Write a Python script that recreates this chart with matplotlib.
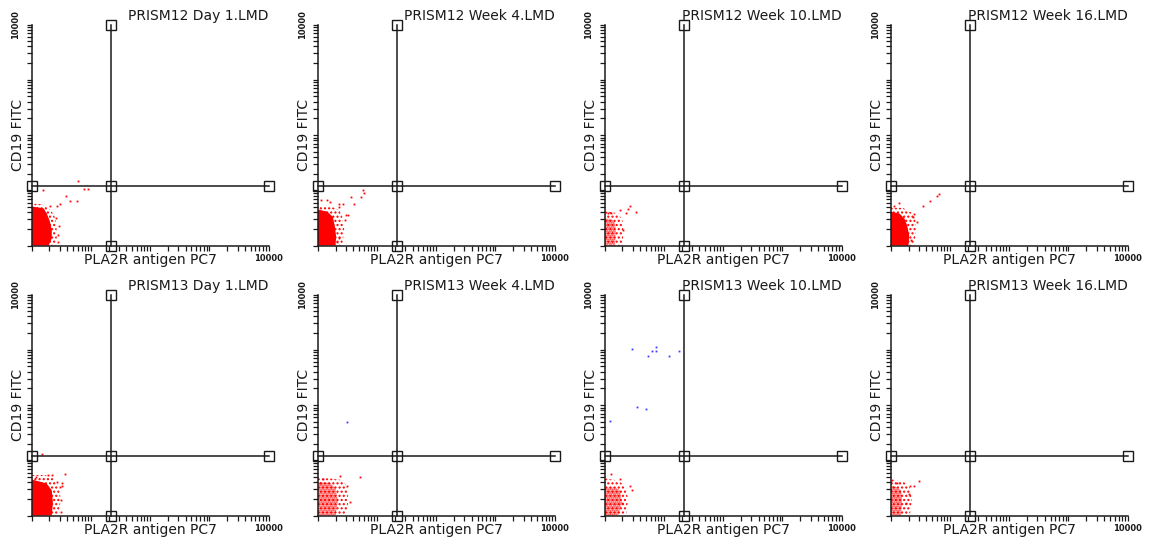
import matplotlib
matplotlib.use("Agg")
import matplotlib.pyplot as plt
from matplotlib.ticker import FuncFormatter, NullFormatter, FixedLocator

# Sample files, row by row
titles = [
    "PRISM12 Day 1.LMD", "PRISM12 Week 4.LMD", "PRISM12 Week 10.LMD", "PRISM12 Week 16.LMD",
    "PRISM13 Day 1.LMD", "PRISM13 Week 4.LMD", "PRISM13 Week 10.LMD", "PRISM13 Week 16.LMD",
]
x_label = "PLA2R antigen PC7"
y_label = "CD19 FITC"

# Quadrant gate (PC7, FITC)
gate_x = 22
gate_y = 12
axis_min, axis_max = 1, 10000

# Outline of the dense event population in each file (PC7, FITC)
core_x = [
    [1, 1.95, 2.2, 2.2, 2.05, 1.8, 1.6, 1],
    [1, 2.0, 2.05, 1.95, 1.8, 1.45, 1],
    [1, 1.5, 1.55, 1.5, 1.3, 1],
    [1, 2.0, 2.05, 1.9, 1.7, 1.4, 1],
    [1, 2.2, 2.3, 2.2, 1.8, 1],
    [1, 2.0, 2.2, 2.0, 1.6, 1],
    [1, 1.7, 1.95, 1.85, 1.5, 1],
    [1, 1.5, 1.55, 1.5, 1.2, 1],
]
core_y = [
    [1, 1, 1.35, 1.9, 2.7, 3.85, 4.7, 5.1],
    [1, 1, 1.45, 2.2, 3.3, 4.1, 4.5],
    [1, 1, 1.8, 2.6, 3.0, 3.1],
    [1, 1, 1.5, 2.3, 3.1, 3.8, 4.1],
    [1, 1, 1.7, 2.85, 3.8, 4.5],
    [1, 1, 1.85, 3.1, 3.95, 3.95],
    [1, 1, 1.65, 2.85, 3.2, 3.2],
    [1, 1, 1.85, 2.85, 3.35, 3.5],
]
# Outline of the thinner fringe around it
halo_x = [
    [1, 2.6, 2.7, 2.6, 2.4, 2.0, 1.5, 1],
    [1, 2.6, 2.8, 2.6, 2.3, 1.6, 1],
    [1, 2.0, 2.1, 2.0, 1.7, 1.2, 1],
    [1, 2.5, 2.7, 2.6, 2.2, 1.6, 1],
    [1, 2.9, 3.1, 2.9, 2.4, 1.7, 1],
    [1, 3.0, 3.3, 3.1, 2.5, 1.6, 1],
    [1, 2.3, 2.5, 2.3, 1.7, 1],
    [1, 2.1, 2.3, 2.1, 1.6, 1],
]
halo_y = [
    [1, 1, 1.6, 2.6, 3.6, 4.6, 5.6, 5.7],
    [1, 1, 2.0, 3.3, 4.4, 5.2, 5.2],
    [1, 1, 1.8, 2.9, 3.8, 4.1, 4.1],
    [1, 1, 2.0, 3.1, 4.0, 4.8, 4.8],
    [1, 1, 2.0, 3.4, 4.6, 5.4, 5.4],
    [1, 1, 1.8, 3.5, 4.4, 4.7, 4.7],
    [1, 1, 1.9, 3.3, 4.3, 4.7],
    [1, 1, 1.85, 3.3, 4.2, 4.4],
]
core_solid = [True, True, False, True, True, False, False, False]

# Isolated events outside the main population
events_x = [
    [6.0, 7.7, 8.9, 1.55, 3.8, 5.8, 3.0, 2.65, 4.5, 2.05, 2.8, 2.75, 2.9, 2.6],
    [6.0, 5.3, 3.7, 4.1, 1.45, 1.15, 2.3, 2.65, 3.25, 2.95, 2.3, 2.9, 2.3, 2.1, 1.6, 5.8],
    [2.65, 2.5, 3.45, 2.35, 1.8, 2.05, 1.3, 1.14],
    [6.6, 6.0, 4.6, 3.45, 1.4, 1.15, 2.5, 2.35, 2.8, 2.2],
    [3.65, 2.25, 1.9, 1.5, 1.2, 2.65, 3.0, 3.2, 3.1, 3.3, 3.3],
    [5.1, 2.4, 3.1, 3.55, 1.1, 1.25],
    [1.3, 1.85, 2.9, 2.65, 1.95],
    [3.0, 2.5, 2.1, 2.05, 1.8, 1.07, 1.3],
]
events_y = [
    [15, 10.6, 10.6, 10.2, 8.0, 6.4, 5.75, 5.1, 6.3, 5.2, 1.52, 1.18, 2.3, 3.2],
    [9.1, 7.6, 7.6, 5.6, 6.6, 6.8, 5.6, 5.6, 3.55, 3.55, 5.0, 2.9, 1.35, 1.15, 6.2, 10.3],
    [5.15, 4.5, 4.1, 3.8, 4.35, 1.9, 3.8, 3.8],
    [8.7, 7.8, 6.4, 5.2, 6.0, 5.15, 3.65, 3.3, 2.7, 1.25],
    [5.6, 5.35, 5.35, 12.8, 5.0, 4.1, 3.3, 1.9, 1.17, 3.95, 3.35],
    [4.95, 5.15, 3.4, 1.75, 3.9, 4.6],
    [5.75, 4.6, 2.85, 3.4, 1.7],
    [4.2, 3.4, 3.4, 2.5, 1.65, 4.35, 3.8],
]
# Events in the second colour region
blue_x = [[], [], [], [], [], [3.15],
          [2.9, 5.35, 6.3, 7.5, 7.5, 12.2, 18, 3.5, 5.1, 1.25], []]
blue_y = [[], [], [], [], [], [50],
          [1040, 765, 940, 1130, 940, 765, 940, 91, 85, 52], []]

# Tick positions on the log scale
major_ticks = [1, 10, 100, 1000, 10000]
minor_ticks = [m * d for d in (1, 10, 100, 1000) for m in range(2, 10)]

W, H = 1150, 543
col_left = [31.5, 317.7, 604.5, 890.7]
row_top = [24.5, 294.5]
ax_w, ax_h = 237, 221
ink = "#1a1a1a"

plt.rcParams["font.family"] = ["DejaVu Sans"]
plt.rcParams["hatch.linewidth"] = 1.0

fig = plt.figure(figsize=(W / 100, H / 100), dpi=100)
fig.patch.set_facecolor("white")


def label_top(v, pos):
    return "10000" if abs(v - axis_max) < 1 else ""


for i, title in enumerate(titles):
    r, c = divmod(i, 4)
    left = col_left[c] / W
    bottom = 1 - (row_top[r] + ax_h) / H
    ax = fig.add_axes([left, bottom, ax_w / W, ax_h / H])
    ax.set_xscale("log")
    ax.set_yscale("log")
    ax.set_xlim(axis_min, axis_max)
    ax.set_ylim(axis_min, axis_max)

    # event populations
    ax.fill(halo_x[i], halo_y[i], facecolor="none", edgecolor="red",
            hatch="....", lw=0, zorder=1)
    if core_solid[i]:
        ax.fill(core_x[i], core_y[i], color="red", lw=0, zorder=1.5)
    else:
        ax.fill(core_x[i], core_y[i], facecolor="none", edgecolor="red",
                hatch="........", lw=0, zorder=1.5)
    ax.plot(events_x[i], events_y[i], "s", color="red", ms=1.3, mew=0,
            zorder=2)
    if blue_x[i]:
        ax.plot(blue_x[i], blue_y[i], "s", color="#3a3aff", ms=1.3, mew=0,
                zorder=2)

    # quadrant gate
    ax.plot([gate_x, gate_x], [axis_min, axis_max], color=ink, lw=1.1,
            zorder=3, clip_on=False)
    ax.plot([axis_min, axis_max], [gate_y, gate_y], color=ink, lw=1.1,
            zorder=3, clip_on=False)
    ax.plot([gate_x, axis_min, gate_x, axis_max, gate_x],
            [axis_max, gate_y, gate_y, gate_y, axis_min], "s",
            mfc="none", mec=ink, ms=6.5, mew=1.0, zorder=4, clip_on=False)

    for side in ("top", "right"):
        ax.spines[side].set_visible(False)
    for side in ("left", "bottom"):
        ax.spines[side].set_color(ink)
        ax.spines[side].set_linewidth(1.1)

    ax.xaxis.set_major_locator(FixedLocator(major_ticks))
    ax.yaxis.set_major_locator(FixedLocator(major_ticks))
    ax.xaxis.set_minor_locator(FixedLocator(minor_ticks))
    ax.yaxis.set_minor_locator(FixedLocator(minor_ticks))
    ax.xaxis.set_major_formatter(FuncFormatter(label_top))
    ax.yaxis.set_major_formatter(FuncFormatter(label_top))
    ax.xaxis.set_minor_formatter(NullFormatter())
    ax.yaxis.set_minor_formatter(NullFormatter())
    ax.tick_params(axis="both", which="major", direction="out", colors=ink,
                   width=0.9, length=3.6, labelsize=6)
    ax.tick_params(axis="both", which="minor", direction="out", colors=ink,
                   width=0.9, length=3.6)
    ax.tick_params(axis="x", which="major", pad=2.3)
    ax.tick_params(axis="y", which="major", pad=4.3, labelrotation=90)
    for lab in ax.get_xticklabels() + ax.get_yticklabels():
        lab.set_fontweight("bold")
    for lab in ax.get_yticklabels():
        lab.set_va("center")

    ax.set_xlabel(x_label, fontsize=10, color=ink)
    ax.xaxis.set_label_coords(0.5, -14.5 / ax_h, transform=ax.transAxes)
    ax.xaxis.label.set_va("center")
    ax.set_ylabel(y_label, fontsize=10, color=ink)
    ax.yaxis.set_label_coords(-14 / ax_w, 0.5, transform=ax.transAxes)
    ax.yaxis.label.set_va("center")
    ax.set_title(title, loc="right", fontsize=10, pad=3.2, color=ink)
    ax.patch.set_alpha(0)

fig.savefig("out.png", dpi=100, facecolor="white")
